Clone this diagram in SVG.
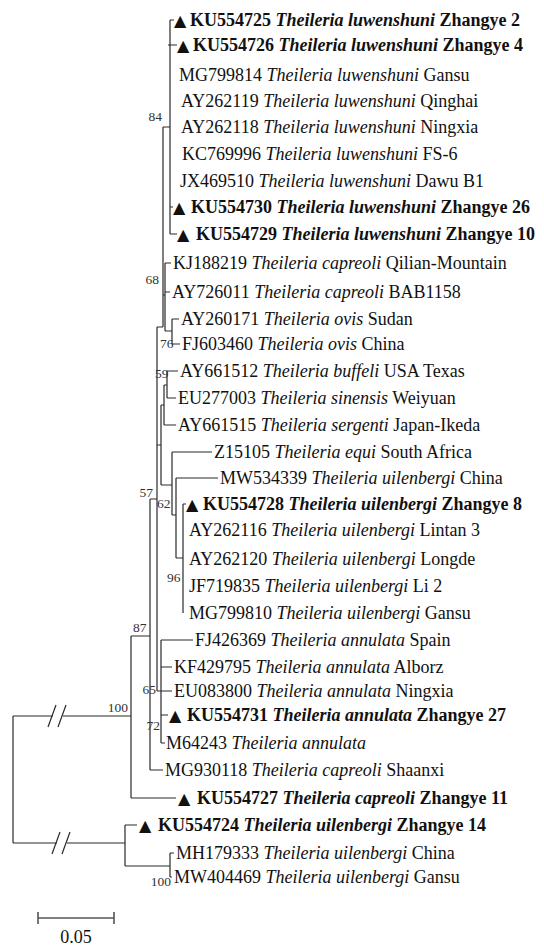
<svg xmlns="http://www.w3.org/2000/svg" width="544" height="946" viewBox="0 0 544 946">
<style>
.t{font-family:"Liberation Serif","Times New Roman",serif;font-size:18px;fill:#111}
.b{font-weight:bold}
.i{font-style:italic}
.tri{font-family:"DejaVu Sans",sans-serif;font-size:16px;font-weight:normal;font-style:normal}
.bs{font-family:"Liberation Serif","Times New Roman",serif;font-size:13.5px;fill:#333}
.ln{fill:none;stroke:#2a2a2a;stroke-width:1.2}
.sc{fill:none;stroke:#555;stroke-width:1.6}
</style>
<rect width="544" height="946" fill="#fff"/>
<g id="connectors" class="ln">
<path d="M170,20 V234 M170,20 H174 M168,45 H177 M170,207 H173 M170,234 H177 M163,127 H170 M163,127 V327"/>
<path d="M165,263 V331 M165,263 H171 M165,292 H170 M163,295 H165"/>
<path d="M165,331 H172 M172,319 V344 M172,319 H179 M172,344 H180"/>
<path d="M157,327 H163 M157,327 V691 M150,499 H157"/>
<path d="M167,371 V398 M167,371 H178 M167,398 H176 M164,385 H167 M164,385 V425 M164,425 H176 M161,405 H164 M161,405 V485 M157,445 H161"/>
<path d="M161,485 H172 M172,452 V515 M172,452 H212 M176,478 V558 M176,478 H218 M172,515 H176 M176,558 H183 M183,504 V613 M183,504 H186"/>
<path d="M157,691 H161 M161,640 V743 M161,640 H193 M161,667 H172 M161,691 H172 M161,715 H168 M161,743 H165"/>
<path d="M150,499 V770 M150,770 H163 M131,636 H150"/>
<path d="M131,636 V798 M131,798 H176"/>
<path d="M13,716 V843 M13,716 H53 M63,716 H131 M13,843 H57 M67,843 H125"/>
<path d="M48,727 L56,705 M58,727 L66,705 M52,854 L60,832 M62,854 L70,832"/>
<path d="M125,825 V866 M125,825 H137 M125,866 H170 M170,853 V877 M170,853 H174 M170,877 H172"/>
</g>
<g id="bootstrap">
<text class="bs" x="162" y="121" text-anchor="end">84</text>
<text class="bs" x="159" y="284" text-anchor="end">68</text>
<text class="bs" x="160" y="348">76</text>
<text class="bs" x="155" y="378">59</text>
<text class="bs" x="153" y="497" text-anchor="end">57</text>
<text class="bs" x="157" y="508">62</text>
<text class="bs" x="167" y="582">96</text>
<text class="bs" x="133" y="632">87</text>
<text class="bs" x="156" y="694" text-anchor="end">65</text>
<text class="bs" x="160" y="730" text-anchor="end">72</text>
<text class="bs" x="128" y="712" text-anchor="end">100</text>
<text class="bs" x="171" y="886" text-anchor="end">100</text>
</g>
<g id="n1"><text class="t b" y="26"><tspan class="tri" x="174">▲</tspan><tspan x="190">KU554725 </tspan><tspan class="i">Theileria luwenshuni</tspan> Zhangye 2</text></g>
<g id="n2"><text class="t b" y="51"><tspan class="tri" x="177">▲</tspan><tspan x="193">KU554726 </tspan><tspan class="i">Theileria luwenshuni</tspan> Zhangye 4</text></g>
<g id="n3"><text class="t" x="179" y="81">MG799814 <tspan class="i">Theileria luwenshuni</tspan> Gansu</text></g>
<g id="n4"><text class="t" x="181" y="107">AY262119 <tspan class="i">Theileria luwenshuni</tspan> Qinghai</text></g>
<g id="n5"><text class="t" x="181" y="133">AY262118 <tspan class="i">Theileria luwenshuni</tspan> Ningxia</text></g>
<g id="n6"><text class="t" x="182" y="160">KC769996 <tspan class="i">Theileria luwenshuni</tspan> FS-6</text></g>
<g id="n7"><text class="t" x="180" y="187">JX469510 <tspan class="i">Theileria luwenshuni</tspan> Dawu B1</text></g>
<g id="n8"><text class="t b" y="213"><tspan class="tri" x="173">▲</tspan><tspan x="191">KU554730 </tspan><tspan class="i">Theileria luwenshuni</tspan> Zhangye 26</text></g>
<g id="n9"><text class="t b" y="240"><tspan class="tri" x="177">▲</tspan><tspan x="196">KU554729 </tspan><tspan class="i">Theileria luwenshuni</tspan> Zhangye 10</text></g>
<g id="n10"><text class="t" x="173" y="269">KJ188219 <tspan class="i">Theileria capreoli</tspan> Qilian-Mountain</text></g>
<g id="n11"><text class="t" x="172" y="298">AY726011 <tspan class="i">Theileria capreoli</tspan> BAB1158</text></g>
<g id="n12"><text class="t" x="181" y="325">AY260171 <tspan class="i">Theileria ovis</tspan> Sudan</text></g>
<g id="n13"><text class="t" x="182" y="350">FJ603460 <tspan class="i">Theileria ovis</tspan> China</text></g>
<g id="n14"><text class="t" x="180" y="377">AY661512 <tspan class="i">Theileria buffeli</tspan> USA Texas</text></g>
<g id="n15"><text class="t" x="178" y="404">EU277003 <tspan class="i">Theileria sinensis</tspan> Weiyuan</text></g>
<g id="n16"><text class="t" x="178" y="431">AY661515 <tspan class="i">Theileria sergenti</tspan> Japan-Ikeda</text></g>
<g id="n17"><text class="t" x="214" y="458">Z15105 <tspan class="i">Theileria equi</tspan> South Africa</text></g>
<g id="n18"><text class="t" x="220" y="484">MW534339 <tspan class="i">Theileria uilenbergi</tspan> China</text></g>
<g id="n19"><text class="t b" y="510"><tspan class="tri" x="186">▲</tspan><tspan x="203">KU554728 </tspan><tspan class="i">Theileria uilenbergi</tspan> Zhangye 8</text></g>
<g id="n20"><text class="t" x="189" y="536">AY262116 <tspan class="i">Theileria uilenbergi</tspan> Lintan 3</text></g>
<g id="n21"><text class="t" x="189" y="565">AY262120 <tspan class="i">Theileria uilenbergi</tspan> Longde</text></g>
<g id="n22"><text class="t" x="189" y="592">JF719835 <tspan class="i">Theileria uilenbergi</tspan> Li 2</text></g>
<g id="n23"><text class="t" x="189" y="619">MG799810 <tspan class="i">Theileria uilenbergi</tspan> Gansu</text></g>
<g id="n24"><text class="t" x="195" y="646">FJ426369 <tspan class="i">Theileria annulata</tspan> Spain</text></g>
<g id="n25"><text class="t" x="174" y="673">KF429795 <tspan class="i">Theileria annulata</tspan> Alborz</text></g>
<g id="n26"><text class="t" x="174" y="697">EU083800 <tspan class="i">Theileria annulata</tspan> Ningxia</text></g>
<g id="n27"><text class="t b" y="721"><tspan class="tri" x="169">▲</tspan><tspan x="187">KU554731 </tspan><tspan class="i">Theileria annulata</tspan> Zhangye 27</text></g>
<g id="n28"><text class="t" x="166" y="749">M64243 <tspan class="i">Theileria annulata</tspan></text></g>
<g id="n29"><text class="t" x="165" y="776">MG930118 <tspan class="i">Theileria capreoli</tspan> Shaanxi</text></g>
<g id="n30"><text class="t b" y="804"><tspan class="tri" x="178">▲</tspan><tspan x="197">KU554727 </tspan><tspan class="i">Theileria capreoli</tspan> Zhangye 11</text></g>
<g id="n31"><text class="t b" y="831"><tspan class="tri" x="139">▲</tspan><tspan x="158">KU554724 </tspan><tspan class="i">Theileria uilenbergi</tspan> Zhangye 14</text></g>
<g id="n32"><text class="t" x="176" y="859">MH179333 <tspan class="i">Theileria uilenbergi</tspan> China</text></g>
<g id="n33"><text class="t" x="174" y="883">MW404469 <tspan class="i">Theileria uilenbergi</tspan> Gansu</text></g>
<g id="scalebar">
<path class="sc" d="M38,918 H114 M38,912 V924 M114,912 V924"/>
<text class="t" x="76" y="943" text-anchor="middle" font-size="17">0.05</text>
</g>
</svg>
